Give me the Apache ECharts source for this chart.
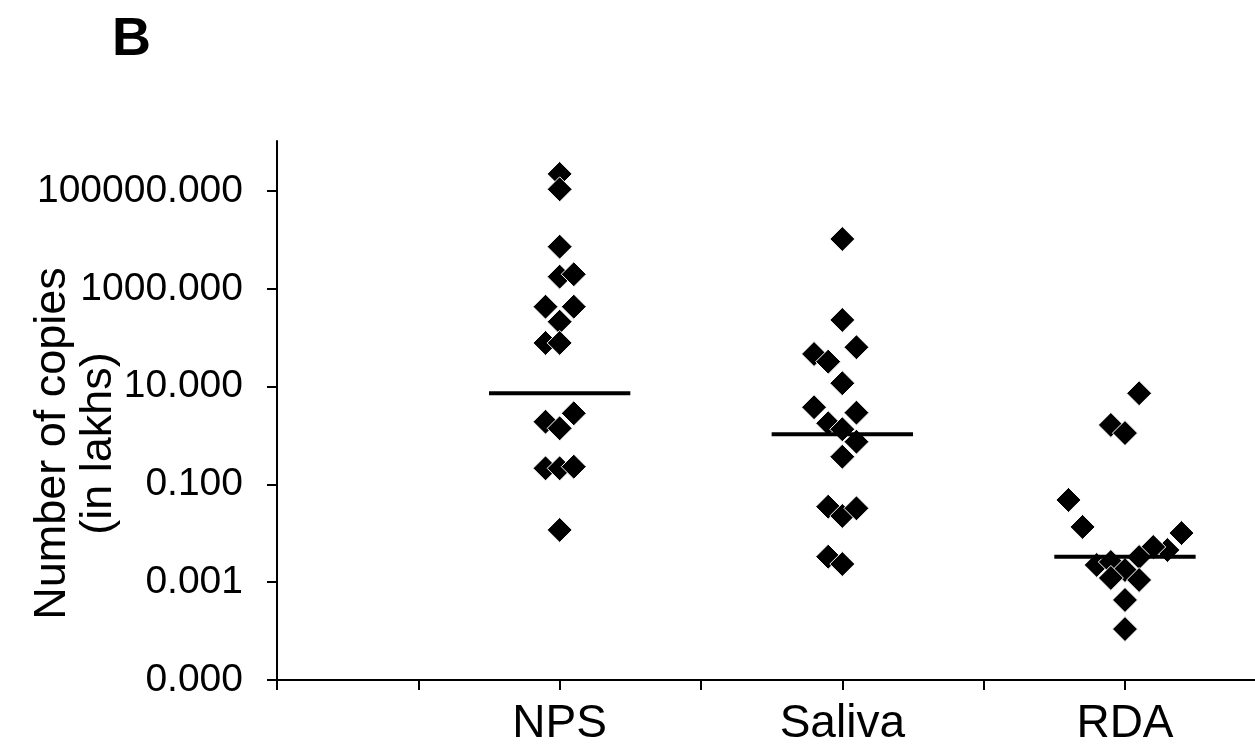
<!DOCTYPE html>
<html><head><meta charset="utf-8">
<script src="https://cdn.jsdelivr.net/npm/echarts@6/dist/echarts.min.js"></script>
<style>html,body{margin:0;padding:0;background:#fff}#c{width:1255px;height:749px}</style>
</head><body><div id="c"></div>
<script>
const categories = ['NPS', 'Saliva', 'RDA'];
const categoryPositions = [2, 4, 6];
const yTickValues = [0.00001, 0.001, 0.1, 10, 1000, 100000];

const npsOffsets = [0, 0, 0, 0, 0.1, -0.1, 0.1, 0, -0.1, 0, 0.1, -0.1, 0, -0.1, 0, 0.1, 0];
const npsValues = [223000, 108000, 7260, 1770, 1980, 430, 430, 212, 78, 78, 2.84, 1.91, 1.40, 0.213, 0.213, 0.230, 0.0117];

const salivaOffsets = [0, 0, 0.1, -0.2, -0.1, 0, -0.2, 0.1, -0.1, 0, 0.1, 0, -0.1, 0, 0.1, -0.1, 0];
const salivaValues = [10400, 230, 63.7, 46.4, 32.3, 11.7, 3.78, 2.93, 1.78, 1.34, 0.746, 0.368, 0.035, 0.0226, 0.0324, 0.00332, 0.00235];

const rdaOffsets = [0.1, -0.1, 0, -0.4, -0.3, 0.4, 0.3, 0.2, -0.2, -0.1, 0, 0.1, -0.1, 0.1, 0, 0];
const rdaValues = [7.3, 1.64, 1.12, 0.048, 0.0135, 0.0101, 0.00455, 0.00525, 0.00225, 0.00259, 0.00177, 0.00327, 0.00122, 0.00111, 0.000433, 0.000110];

const medians = [7.3, 1.06, 0.0033];

const groups = [
  [npsOffsets, npsValues],
  [salivaOffsets, salivaValues],
  [rdaOffsets, rdaValues]
];

const scatterSeries = groups.map(([offs, vals], i) => ({
  type: 'scatter',
  name: categories[i],
  symbol: 'diamond',
  symbolSize: 25,
  itemStyle: { color: '#000', opacity: 1, borderColor: '#fff', borderWidth: 1 },
  data: vals.map((v, j) => [categoryPositions[i] + offs[j], v]),
  z: 2
}));

const medianSeries = medians.map((m, i) => ({
  type: 'line',
  name: categories[i] + ' median',
  symbol: 'none',
  lineStyle: { color: '#000', width: 4 },
  data: [[categoryPositions[i] - 0.5, m], [categoryPositions[i] + 0.5, m]],
  z: 3
}));

const chart = echarts.init(document.getElementById('c'), null, { renderer: 'canvas' });
chart.setOption({
  animation: false,
  backgroundColor: '#fff',
  title: {
    text: 'B', left: 107, top: 8,
    textStyle: { fontFamily: 'Liberation Sans', fontWeight: 'bold', fontSize: 54, color: '#000' }
  },
  grid: { left: 277, right: 0, top: 141, bottom: 69, containLabel: false, outerBoundsMode: 'none' },
  xAxis: {
    type: 'value', min: 0, max: 6.92, interval: 1,
    axisLine: { show: true, onZero: false, lineStyle: { color: '#000', width: 2 } },
    axisTick: { show: true, length: 10, lineStyle: { color: '#000', width: 2 } },
    splitLine: { show: false },
    axisLabel: {
      margin: 21,
      fontFamily: 'Liberation Sans', fontSize: 46, color: '#000',
      formatter: v => { const k = categoryPositions.indexOf(Math.round(v * 1000) / 1000); return k >= 0 ? categories[k] : ''; },
      showMaxLabel: false
    }
  },
  yAxis: {
    type: 'log', logBase: 10, min: 0.00001, max: 1050000,
    name: 'Number of copies\n(in lakhs)',
    nameLocation: 'middle', nameRotate: 90, nameGap: 155, nameMoveOverlap: false,
    nameTextStyle: { fontFamily: 'Liberation Sans', fontSize: 45, color: '#000', lineHeight: 46, padding: [0, 66, 0, 0] },
    axisLine: { show: true, lineStyle: { color: '#000', width: 2 } },
    axisTick: { show: true, length: 10, customValues: yTickValues, lineStyle: { color: '#000', width: 2 } },
    splitLine: { show: false },
    axisLabel: {
      margin: 34, customValues: yTickValues,
      fontFamily: 'Liberation Sans', fontSize: 39, color: '#000',
      formatter: v => Number(v).toFixed(3)
    }
  },
  series: [...scatterSeries, ...medianSeries]
});
</script></body></html>
